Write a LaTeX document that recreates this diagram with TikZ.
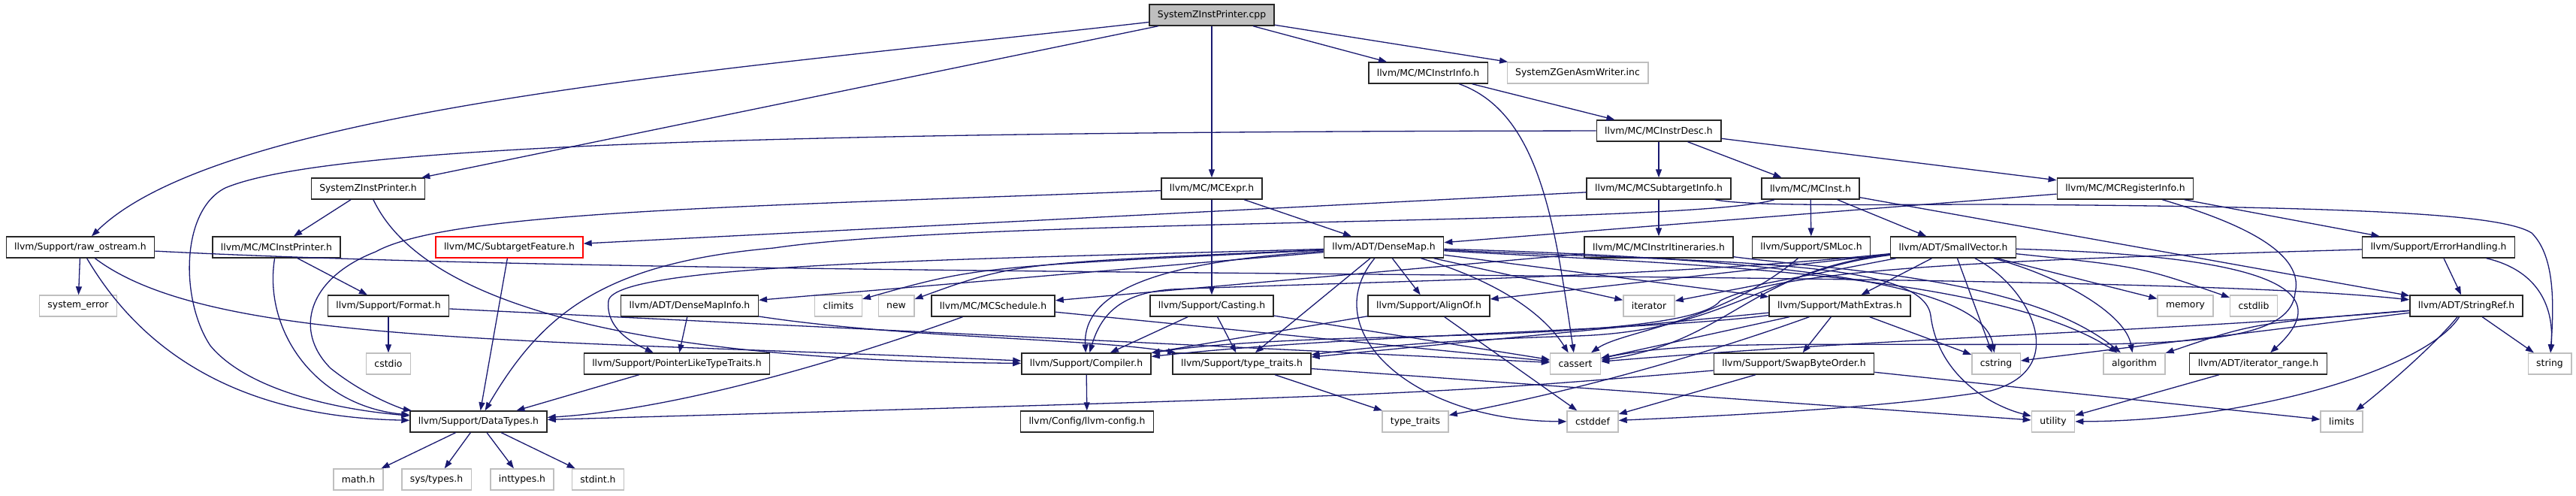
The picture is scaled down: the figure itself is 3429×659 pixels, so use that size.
\documentclass[tikz,border=0pt]{standalone}
\usepackage{fontspec}
\setmainfont{DejaVu Sans}
\usepackage{tikz}
\usetikzlibrary{arrows.meta}
\usepackage{xcolor}
\definecolor{incblue}{HTML}{191970}
\definecolor{sysgray}{HTML}{BFBFBF}

\begin{document}
\begin{tikzpicture}[x=1pt,y=-1pt,>={Triangle[length=11pt,width=8pt]},
  font=\fontsize{12.4}{14}\selectfont,
  hdr/.style={draw=black!85,line width=1.4pt,fill=white,minimum height=28pt,inner xsep=11pt,inner ysep=0pt},
  sys/.style={hdr,draw=sysgray},
  inc/.style={->,draw=incblue,line width=1.3pt}]
\useasboundingbox (0,0) rectangle (3429,659);
\node[hdr,fill=sysgray] (cpp) at (1613,20) {SystemZInstPrinter.cpp};
\node[hdr] (instrinfo) at (1901,97) {llvm/MC/MCInstrInfo.h};
\node[sys] (asmwriter) at (2100,97) {SystemZGenAsmWriter.inc};
\node[hdr] (instrdesc) at (2208,174) {llvm/MC/MCInstrDesc.h};
\node[hdr] (printerh) at (490,251) {SystemZInstPrinter.h};
\node[hdr] (mcexpr) at (1613,251) {llvm/MC/MCExpr.h};
\node[hdr] (subtarget) at (2208,251) {llvm/MC/MCSubtargetInfo.h};
\node[hdr] (mcinst) at (2410,251) {llvm/MC/MCInst.h};
\node[hdr] (reginfo) at (2829,251) {llvm/MC/MCRegisterInfo.h};
\node[hdr] (rawos) at (107,329) {llvm/Support/raw\_ostream.h};
\node[hdr] (instprinter) at (368,329) {llvm/MC/MCInstPrinter.h};
\node[hdr,draw=red] (feature) at (678,329) {llvm/MC/SubtargetFeature.h};
\node[hdr] (densemap) at (1842,329) {llvm/ADT/DenseMap.h};
\node[hdr] (itin) at (2208,329) {llvm/MC/MCInstrItineraries.h};
\node[hdr] (smloc) at (2411,329) {llvm/Support/SMLoc.h};
\node[hdr] (smallvec) at (2600,329) {llvm/ADT/SmallVector.h};
\node[hdr] (errhandling) at (3246,329) {llvm/Support/ErrorHandling.h};
\node[sys] (syserror) at (104,407) {system\_error};
\node[hdr] (format) at (517,407) {llvm/Support/Format.h};
\node[hdr] (dminfo) at (918,407) {llvm/ADT/DenseMapInfo.h};
\node[sys] (climits) at (1116,407) {climits};
\node[sys] (new) at (1193,407) {new};
\node[hdr] (schedule) at (1322,407) {llvm/MC/MCSchedule.h};
\node[hdr] (casting) at (1613,407) {llvm/Support/Casting.h};
\node[hdr] (alignof) at (1902,407) {llvm/Support/AlignOf.h};
\node[sys] (iterator) at (2195,407) {iterator};
\node[hdr] (mathext) at (2449,407) {llvm/Support/MathExtras.h};
\node[sys] (memory) at (2909,407) {memory};
\node[sys] (cstdlib) at (3000,407) {cstdlib};
\node[hdr] (stringref) at (3283,407) {llvm/ADT/StringRef.h};
\node[sys] (cstdio) at (517,484) {cstdio};
\node[hdr] (ptrtraits) at (901,484) {llvm/Support/PointerLikeTypeTraits.h};
\node[hdr] (compiler) at (1446,484) {llvm/Support/Compiler.h};
\node[hdr] (typetraitsh) at (1653,484) {llvm/Support/type\_traits.h};
\node[sys] (cassert) at (2097,484) {cassert};
\node[hdr] (swapbytes) at (2388,484) {llvm/Support/SwapByteOrder.h};
\node[sys] (cstring) at (2657,484) {cstring};
\node[sys] (algorithm) at (2841,484) {algorithm};
\node[hdr] (iterrange) at (3006,484) {llvm/ADT/iterator\_range.h};
\node[sys] (string) at (3394,484) {string};
\node[hdr] (datatypes) at (637,561) {llvm/Support/DataTypes.h};
\node[hdr] (llvmconfig) at (1447,561) {llvm/Config/llvm-config.h};
\node[sys] (typetraits) at (1884,561) {type\_traits};
\node[sys] (cstddef) at (2120,561) {cstddef};
\node[sys] (utility) at (2733,561) {utility};
\node[sys] (limits) at (3117,561) {limits};
\node[sys] (mathh) at (477,638) {math.h};
\node[sys] (systypes) at (581,638) {sys/types.h};
\node[sys] (inttypes) at (695,638) {inttypes.h};
\node[sys] (stdint) at (796,638) {stdint.h};
\draw[inc] (cpp) -- (printerh);
\draw[inc] (cpp) .. controls (1000,90) and (300,140) .. (rawos);
\draw[inc] (cpp) -- (mcexpr);
\draw[inc] (cpp) -- (instrinfo);
\draw[inc] (cpp) -- (asmwriter);
\draw[inc] (printerh) -- (instprinter);
\draw[inc] (printerh) .. controls (570,420) and (900,480) .. (compiler);
\draw[inc] (rawos) .. controls (1000,375) and (2800,355) .. (stringref);
\draw[inc] (rawos) .. controls (280,460) and (700,450) .. (compiler);
\draw[inc] (rawos) .. controls (190,470) and (320,555) .. (datatypes);
\draw[inc] (rawos) -- (syserror);
\draw[inc] (instprinter) -- (format);
\draw[inc] (instprinter) .. controls (350,440) and (420,540) .. (datatypes);
\draw[inc] (format) -- (cstdio);
\draw[inc] (format) -- (cassert);
\draw[inc] (feature) -- (datatypes);
\draw[inc] (instrinfo) -- (instrdesc);
\draw[inc] (instrinfo) .. controls (2050,150) and (2070,300) .. (cassert);
\draw[inc] (instrdesc) -- (subtarget);
\draw[inc] (instrdesc) -- (mcinst);
\draw[inc] (instrdesc) -- (reginfo);
\draw[inc] (instrdesc) .. controls (900,175) and (420,200) .. (300,250) .. controls (240,280) and (240,400) .. (280,460) .. controls (330,520) and (450,545) .. (datatypes);
\draw[inc] (mcexpr) -- (densemap);
\draw[inc] (mcexpr) -- (casting);
\draw[inc] (mcexpr) .. controls (1000,275) and (600,280) .. (500,335) .. controls (410,370) and (390,440) .. (440,490) .. controls (490,530) and (540,545) .. (datatypes);
\draw[inc] (subtarget) -- (itin);
\draw[inc] (subtarget) -- (feature);
\draw[inc] (subtarget) .. controls (2330,275) and (2500,272) .. (2650,272) .. controls (3150,275) and (3330,285) .. (3370,310) .. controls (3400,340) and (3400,400) .. (string);
\draw[inc] (mcinst) -- (smallvec);
\draw[inc] (mcinst) -- (smloc);
\draw[inc] (mcinst) -- (stringref);
\draw[inc] (mcinst) .. controls (2250,300) and (1300,290) .. (1030,330) .. controls (800,350) and (720,420) .. (datatypes);
\draw[inc] (reginfo) -- (densemap);
\draw[inc] (reginfo) -- (errhandling);
\draw[inc] (reginfo) .. controls (2960,290) and (3070,330) .. (3055,390) .. controls (3050,445) and (2950,455) .. (2800,458) .. controls (2400,460) and (2250,452) .. (cassert);
\draw[inc] (densemap) -- (dminfo);
\draw[inc] (densemap) .. controls (1300,355) .. (climits);
\draw[inc] (densemap) .. controls (1350,350) .. (new);
\draw[inc] (densemap) -- (alignof);
\draw[inc] (densemap) .. controls (1600,345) and (1440,370) .. (compiler);
\draw[inc] (densemap) -- (mathext);
\draw[inc] (densemap) .. controls (1300,345) and (820,350) .. (810,400) .. controls (805,440) and (850,460) .. (ptrtraits);
\draw[inc] (densemap) -- (typetraitsh);
\draw[inc] (densemap) .. controls (2200,350) and (2650,360) .. (algorithm);
\draw[inc] (densemap) .. controls (1980,370) and (2050,410) .. (cassert);
\draw[inc] (densemap) .. controls (1750,440) and (1880,560) .. (cstddef);
\draw[inc] (densemap) .. controls (2400,345) and (2640,380) .. (cstring);
\draw[inc] (densemap) -- (iterator);
\draw[inc] (densemap) .. controls (2300,350) and (2560,345) .. (2570,420) .. controls (2580,500) and (2650,540) .. (utility);
\draw[inc] (itin) -- (schedule);
\draw[inc] (itin) .. controls (2450,360) and (2700,370) .. (algorithm);
\draw[inc] (smloc) .. controls (2290,430) and (2160,440) .. (cassert);
\draw[inc] (smallvec) -- (mathext);
\draw[inc] (smallvec) -- (alignof);
\draw[inc] (smallvec) .. controls (2200,370) and (1800,375) .. (1560,385) .. controls (1490,390) and (1465,420) .. (compiler);
\draw[inc] (smallvec) .. controls (2350,360) and (2300,440) .. (2100,447) .. controls (1900,453) and (1800,465) .. (typetraitsh);
\draw[inc] (smallvec) .. controls (2750,370) and (2830,420) .. (algorithm);
\draw[inc] (smallvec) .. controls (2330,360) and (2300,455) .. (cassert);
\draw[inc] (smallvec) .. controls (2700,380) and (2760,490) .. (2650,520) .. controls (2500,545) and (2250,555) .. (cstddef);
\draw[inc] (smallvec) .. controls (2850,355) .. (cstdlib);
\draw[inc] (smallvec) -- (cstring);
\draw[inc] (smallvec) -- (iterator);
\draw[inc] (smallvec) -- (memory);
\draw[inc] (smallvec) .. controls (3000,340) and (3120,380) .. (iterrange);
\draw[inc] (errhandling) -- (stringref);
\draw[inc] (errhandling) .. controls (3380,360) and (3400,410) .. (string);
\draw[inc] (errhandling) .. controls (2700,345) and (2380,355) .. (2290,400) .. controls (2260,440) and (2000,445) .. (1800,450) .. controls (1650,455) and (1580,462) .. (compiler);
\draw[inc] (dminfo) -- (ptrtraits);
\draw[inc] (dminfo) .. controls (1200,450) and (1450,450) .. (typetraitsh);
\draw[inc] (schedule) .. controls (1120,480) and (900,545) .. (datatypes);
\draw[inc] (schedule) -- (cassert);
\draw[inc] (casting) -- (compiler);
\draw[inc] (casting) -- (typetraitsh);
\draw[inc] (casting) -- (cassert);
\draw[inc] (alignof) -- (compiler);
\draw[inc] (alignof) -- (cstddef);
\draw[inc] (mathext) .. controls (2200,440) and (1800,445) .. (compiler);
\draw[inc] (mathext) -- (swapbytes);
\draw[inc] (mathext) -- (typetraitsh);
\draw[inc] (mathext) -- (cassert);
\draw[inc] (mathext) -- (cstring);
\draw[inc] (mathext) .. controls (2330,450) and (2150,510) .. (typetraits);
\draw[inc] (stringref) .. controls (2900,440) and (2500,450) .. (cassert);
\draw[inc] (stringref) -- (cstring);
\draw[inc] (stringref) .. controls (3000,430) .. (algorithm);
\draw[inc] (stringref) -- (string);
\draw[inc] (stringref) .. controls (3240,460) and (3170,520) .. (limits);
\draw[inc] (stringref) .. controls (3230,490) and (3000,560) .. (utility);
\draw[inc] (ptrtraits) -- (datatypes);
\draw[inc] (compiler) -- (llvmconfig);
\draw[inc] (typetraitsh) -- (typetraits);
\draw[inc] (typetraitsh) -- (utility);
\draw[inc] (swapbytes) .. controls (1900,525) .. (datatypes);
\draw[inc] (swapbytes) -- (cstddef);
\draw[inc] (swapbytes) -- (limits);
\draw[inc] (iterrange) -- (utility);
\draw[inc] (datatypes) -- (mathh);
\draw[inc] (datatypes) -- (systypes);
\draw[inc] (datatypes) -- (inttypes);
\draw[inc] (datatypes) -- (stdint);
\end{tikzpicture}
\end{document}
